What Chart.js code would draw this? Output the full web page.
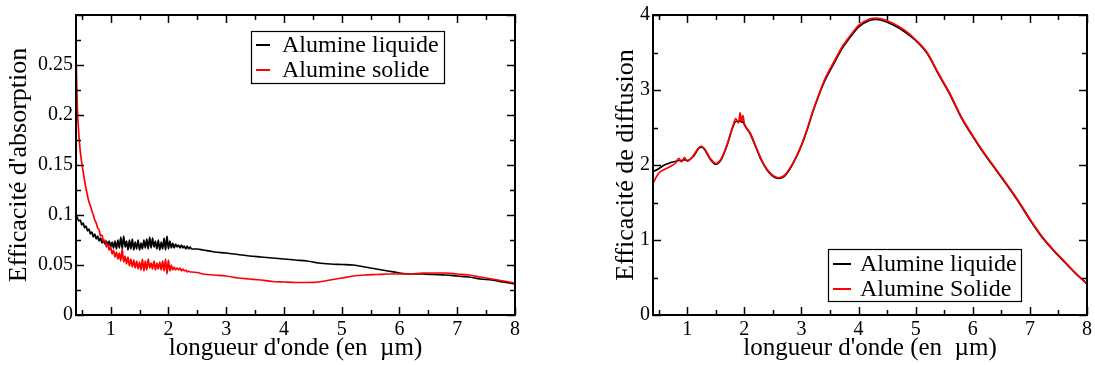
<!DOCTYPE html>
<html lang="fr">
<head>
<meta charset="UTF-8">
<title>Efficacités d'absorption et de diffusion</title>
<script src="https://cdn.jsdelivr.net/npm/chart.js"></script>
<style>
  body { margin: 0; background: #fff; }
  #wrap { position: relative; width: 1095px; height: 365px; }
  .box { position: absolute; top: 0; height: 365px; }
  #left { left: 0; width: 560px; }
  #right { left: 560px; width: 535px; }
</style>
</head>
<body>
<div id="wrap">
  <div class="box" id="left"><canvas id="absChart"></canvas></div>
  <div class="box" id="right"><canvas id="diffChart"></canvas></div>
</div>
<script>
// longueurs d'onde (µm) - graphe de gauche
const absX = [
  0.4,0.425,0.45,0.475,0.5,0.525,0.55,0.575,0.6,0.625,
  0.65,0.675,0.7,0.725,0.75,0.775,0.8,0.825,0.85,0.875,
  0.9,0.925,0.95,0.975,1.0,1.025,1.05,1.075,1.1,1.125,
  1.15,1.175,1.2,1.225,1.25,1.275,1.3,1.325,1.35,1.375,
  1.4,1.425,1.45,1.475,1.5,1.525,1.55,1.575,1.6,1.625,
  1.65,1.675,1.7,1.725,1.75,1.775,1.8,1.825,1.85,1.875,
  1.9,1.925,1.95,1.975,2.0,2.025,2.05,2.075,2.1,2.125,
  2.15,2.175,2.2,2.225,2.25,2.275,2.3,2.325,2.35,2.375,
  2.4,
  2.5,2.6,2.8,3.0,3.2,3.4,3.6,3.8,4.0,
  4.2,4.4,4.6,4.8,5.0,5.2,5.4,5.6,5.8,6.0,
  6.2,6.4,6.6,6.8,7.0,7.2,7.4,7.6,7.8,8.0
];
// efficacité d'absorption - alumine liquide
const absLiquide = [
  0.100,0.097,0.094,0.095,0.090,0.092,0.087,0.089,0.084,0.086,
  0.081,0.083,0.078,0.081,0.076,0.079,0.074,0.077,0.072,0.075,
  0.071,0.074,0.070,0.074,0.068,0.073,0.067,0.074,0.066,0.075,
  0.067,0.078,0.066,0.079,0.068,0.074,0.065,0.075,0.066,0.076,
  0.065,0.073,0.066,0.075,0.065,0.072,0.066,0.075,0.067,0.076,
  0.066,0.078,0.067,0.077,0.068,0.074,0.066,0.075,0.065,0.073,
  0.066,0.077,0.065,0.079,0.066,0.074,0.067,0.072,0.067,0.071,
  0.068,0.070,0.067,0.070,0.067,0.069,0.066,0.069,0.066,0.068,
  0.066,
  0.066,0.065,0.063,0.062,0.0605,0.059,0.058,0.057,0.056,
  0.055,0.054,0.052,0.051,0.0505,0.050,0.048,0.046,0.044,0.042,
  0.041,0.041,0.0405,0.040,0.039,0.038,0.036,0.035,0.033,0.031
];
// efficacité d'absorption - alumine solide
const absSolide = [
  0.260,0.205,0.180,0.163,0.152,0.143,0.134,0.126,0.119,0.113,
  0.109,0.104,0.100,0.095,0.092,0.087,0.085,0.079,0.080,0.074,
  0.075,0.068,0.071,0.065,0.068,0.061,0.065,0.058,0.063,0.056,
  0.062,0.054,0.066,0.053,0.059,0.051,0.058,0.049,0.056,0.048,
  0.055,0.047,0.054,0.046,0.053,0.045,0.056,0.044,0.054,0.045,
  0.056,0.047,0.052,0.046,0.054,0.045,0.052,0.046,0.053,0.045,
  0.054,0.044,0.056,0.041,0.055,0.044,0.050,0.045,0.048,0.045,
  0.047,0.045,0.047,0.044,0.046,0.044,0.045,0.043,0.044,0.043,
  0.043,
  0.0425,0.041,0.040,0.039,0.037,0.036,0.035,0.0335,0.033,
  0.0325,0.0325,0.033,0.035,0.037,0.039,0.040,0.0405,0.041,0.041,
  0.041,0.042,0.042,0.042,0.041,0.040,0.038,0.036,0.034,0.032
];

// longueurs d'onde (µm) - graphe de droite
const diffX = [
  0.4,0.5,0.6,0.7,0.8,0.85,0.9,0.95,1.0,1.1,
  1.2,1.25,1.3,1.4,1.5,1.6,1.7,1.8,1.85,1.9,
  1.925,1.95,1.975,2.0,2.1,2.2,2.3,2.4,2.5,2.6,
  2.7,2.8,2.9,3.0,3.1,3.2,3.3,3.4,3.5,3.6,
  3.7,3.8,3.9,4.0,4.2,4.3,4.4,4.6,4.8,5.0,
  5.2,5.4,5.6,5.8,6.0,6.2,6.4,6.6,6.8,7.0,
  7.2,7.4,7.6,7.8,8.0
];
// efficacité de diffusion - alumine liquide
const diffLiquide = [
  1.91,1.95,2.00,2.03,2.05,2.06,2.06,2.07,2.06,2.11,
  2.22,2.24,2.21,2.08,2.01,2.08,2.27,2.51,2.58,2.58,
  2.60,2.57,2.58,2.54,2.42,2.24,2.06,1.93,1.85,1.82,
  1.85,1.95,2.09,2.26,2.47,2.71,2.92,3.11,3.26,3.40,
  3.54,3.65,3.75,3.84,3.93,3.94,3.93,3.87,3.78,3.66,
  3.49,3.21,2.94,2.63,2.38,2.15,1.94,1.73,1.51,1.27,
  1.05,0.87,0.71,0.555,0.415
];
// efficacité de diffusion - alumine solide
const diffSolide = [
  1.76,1.89,1.94,1.98,2.03,2.09,2.04,2.10,2.05,2.12,
  2.23,2.25,2.22,2.09,2.02,2.09,2.28,2.52,2.62,2.56,
  2.70,2.58,2.66,2.55,2.43,2.25,2.07,1.94,1.86,1.83,
  1.86,1.96,2.10,2.27,2.48,2.72,2.93,3.13,3.28,3.42,
  3.56,3.67,3.77,3.86,3.95,3.96,3.95,3.89,3.80,3.67,
  3.50,3.22,2.95,2.64,2.39,2.16,1.95,1.74,1.52,1.28,
  1.06,0.88,0.72,0.56,0.42
];

// graduations
const xTicks = [1, 2, 3, 4, 5, 6, 7, 8];
const xMinor = [0.5, 1.5, 2.5, 3.5, 4.5, 5.5, 6.5, 7.5];
const absYTicks = [0, 0.05, 0.1, 0.15, 0.2, 0.25, 0.3];
const absYLabels = ['0', '0.05', '0.1', '0.15', '0.2', '0.25', ''];
const absYMinor = [0.025, 0.075, 0.125, 0.175, 0.225, 0.275];
const diffYTicks = [0, 1, 2, 3, 4];
const diffYLabels = ['0', '1', '2', '3', '4'];
const diffYMinor = [0.5, 1.5, 2.5, 3.5];

const SERIF = "'Liberation Serif', 'Times New Roman', serif";
Chart.defaults.font.family = SERIF;
Chart.defaults.color = '#000';

const pts = (xs, ys) => xs.map((x, i) => ({ x: x, y: ys[i] }));

// cadre + graduations vers l'intérieur (style xmgrace)
const cadre = {
  id: 'cadre',
  afterDatasetsDraw(chart, args, o) {
    const { ctx, chartArea: a, scales: { x, y } } = chart;
    ctx.save();
    ctx.strokeStyle = '#000';
    ctx.lineWidth = 1.5;
    const seg = (x1, y1, x2, y2) => { ctx.beginPath(); ctx.moveTo(x1, y1); ctx.lineTo(x2, y2); ctx.stroke(); };
    const vx = (vals, len) => vals.forEach(v => {
      const p = Math.round(x.getPixelForValue(v)) + 0.5;
      seg(p, a.bottom, p, a.bottom - len);
      seg(p, a.top, p, a.top + len);
    });
    const vy = (vals, len) => vals.forEach(v => {
      const p = Math.round(y.getPixelForValue(v)) + 0.5;
      seg(a.left, p, a.left + len, p);
      seg(a.right, p, a.right - len, p);
    });
    vx(o.xMajor, 8); vx(o.xMinor, 5);
    vy(o.yMajor, 8); vy(o.yMinor, 5);
    ctx.lineWidth = 2;
    ctx.strokeRect(a.left, a.top, a.right - a.left, a.bottom - a.top);
    ctx.restore();
  }
};

// légende encadrée dans la zone du graphe
const legende = {
  id: 'legende',
  afterDraw(chart, args, o) {
    const ctx = chart.ctx;
    ctx.save();
    ctx.fillStyle = '#fff';
    ctx.fillRect(o.x, o.y, o.w, o.h);
    ctx.strokeStyle = '#000';
    ctx.lineWidth = 1.2;
    ctx.strokeRect(o.x + 0.5, o.y + 0.5, o.w, o.h);
    ctx.font = o.size + 'px ' + SERIF;
    ctx.textBaseline = 'middle';
    o.items.forEach((it, i) => {
      const cy = o.y + o.row0 + i * o.rowGap;
      ctx.strokeStyle = it.color;
      ctx.lineWidth = 2;
      ctx.beginPath();
      ctx.moveTo(o.x + 5, cy);
      ctx.lineTo(o.x + 5 + o.sample, cy);
      ctx.stroke();
      ctx.fillStyle = '#000';
      ctx.fillText(it.text, o.x + o.textX, cy + 1);
    });
    ctx.restore();
  }
};

function makeChart(id, cfg) {
  return new Chart(document.getElementById(id), {
    type: 'line',
    data: {
      datasets: [
        { label: cfg.names[1], data: pts(cfg.xs, cfg.red), borderColor: '#ff0000', borderWidth: 1.7,
          pointRadius: 0, cubicInterpolationMode: 'monotone', fill: false },
        { label: cfg.names[0], data: pts(cfg.xs, cfg.black), borderColor: '#000', borderWidth: 1.7,
          pointRadius: 0, cubicInterpolationMode: 'monotone', fill: false }
      ]
    },
    options: {
      responsive: true,
      maintainAspectRatio: false,
      animation: false,
      layout: { padding: { left: 0, right: cfg.padRight, top: 8, bottom: 0 } },
      plugins: {
        legend: { display: false },
        tooltip: { enabled: false },
        cadre: { xMajor: xTicks, xMinor: xMinor, yMajor: cfg.yTicks, yMinor: cfg.yMinor },
        legende: Object.assign({
          items: [{ text: cfg.names[0], color: '#000' }, { text: cfg.names[1], color: '#ff0000' }]
        }, cfg.legend)
      },
      scales: {
        x: {
          type: 'linear', min: 0.4, max: 8,
          afterBuildTicks: s => { s.ticks = xTicks.map(v => ({ value: v })); },
          afterFit: s => { s.height = 50; },
          grid: { display: false, drawTicks: false },
          border: { display: false },
          ticks: { autoSkip: false, maxRotation: 0, padding: 3, font: { size: 20 },
                   callback: v => String(v) },
          title: { display: true, text: "longueur d'onde (en  µm)", padding: { top: 0, bottom: 2 },
                   font: { size: 25, lineHeight: 1.2 } }
        },
        y: {
          type: 'linear', min: 0, max: cfg.yMax,
          afterBuildTicks: s => { s.ticks = cfg.yTicks.map(v => ({ value: v })); },
          afterFit: s => { s.width = cfg.yWidth; },
          grid: { display: false, drawTicks: false },
          border: { display: false },
          ticks: { autoSkip: false, padding: 3, font: { size: 20 },
                   callback: (v, i) => cfg.yLabels[i] },
          title: { display: true, text: cfg.yTitle, padding: { top: cfg.yTitlePad, bottom: 0 },
                   font: { size: 26, lineHeight: 1.2 } }
        }
      }
    },
    plugins: [cadre, legende]
  });
}

makeChart('absChart', {
  xs: absX, black: absLiquide, red: absSolide,
  names: ['Alumine liquide', 'Alumine solide'],
  yMax: 0.3, yTicks: absYTicks, yLabels: absYLabels, yMinor: absYMinor,
  yTitle: "Efficacité d'absorption",
  padRight: 45, yWidth: 76, yTitlePad: 4,
  legend: { x: 251, y: 31, w: 193, h: 52, size: 24, row0: 14, rowGap: 25, sample: 14, textX: 31 }
});

makeChart('diffChart', {
  xs: diffX, black: diffLiquide, red: diffSolide,
  names: ['Alumine liquide', 'Alumine Solide'],
  yMax: 4, yTicks: diffYTicks, yLabels: diffYLabels, yMinor: diffYMinor,
  yTitle: 'Efficacité de diffusion',
  padRight: 4, yWidth: 93, yTitlePad: 51,
  legend: { x: 268, y: 249, w: 193, h: 52, size: 24, row0: 15, rowGap: 25, sample: 18, textX: 32 }
});
</script>
</body>
</html>
